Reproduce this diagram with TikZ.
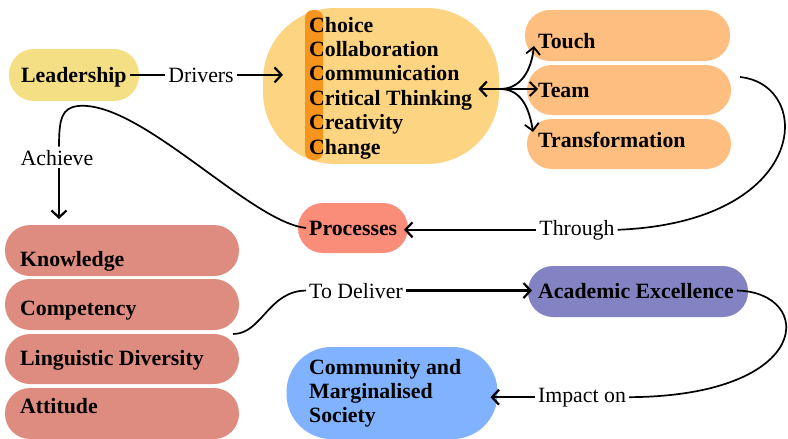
\documentclass[tikz,border=0pt]{standalone}
\usepackage{fontspec}
\setmainfont{Liberation Serif}
\usetikzlibrary{arrows.meta}
\definecolor{cLead}{HTML}{F5DF85}
\definecolor{cBig}{HTML}{FDD482}
\definecolor{cBar}{HTML}{F7941E}
\definecolor{cTouch}{HTML}{FDBE80}
\definecolor{cProc}{HTML}{FA8C7A}
\definecolor{cKnow}{HTML}{DE8C80}
\definecolor{cAE}{HTML}{8383C3}
\definecolor{cCom}{HTML}{80B2FF}
\begin{document}
\begin{tikzpicture}[x=1pt,y=-1pt,
  pill/.style={draw=none, inner sep=0pt, outer sep=0pt, rounded corners=25pt},
  bt/.style={font=\fontsize{21.8}{25}\selectfont\bfseries, inner sep=0pt, anchor=base west},
  rt/.style={font=\fontsize{21.8}{25}\selectfont, inner sep=3pt, anchor=base},
  plainline/.style={line width=2.2pt},
  conn/.style={line width=2.2pt, -{Straight Barb[length=7pt,width=15pt]}},
  branch/.style={line width=1.8pt, -{Straight Barb[length=7pt,width=14pt]}},
  curv/.style={line width=1.7pt}]
\useasboundingbox (0,0) rectangle (788,439);

% shapes
\node[pill, fill=cLead, minimum width=130pt, minimum height=52pt] (lead) at (74,75) {};
\node[pill, fill=cBig, rounded corners=72pt, minimum width=236pt, minimum height=156pt] (cbox) at (381,86) {};
\node[pill, fill=cBar, rounded corners=8pt, minimum width=18pt, minimum height=150pt] (bar) at (314,85) {};
\node[pill, fill=cTouch, minimum width=205pt, minimum height=51pt] (touch) at (627.5,35.5) {};
\node[pill, fill=cTouch, minimum width=204pt, minimum height=50pt] (team) at (629,90) {};
\node[pill, fill=cTouch, minimum width=204pt, minimum height=50pt] (trans) at (629,144) {};
\node[pill, fill=cProc, minimum width=110pt, minimum height=50pt] (proc) at (353,228) {};
\node[pill, fill=cKnow, minimum width=234pt, minimum height=51pt] (know) at (122,250.5) {};
\node[pill, fill=cKnow, minimum width=234pt, minimum height=51pt] (comp) at (122,304.5) {};
\node[pill, fill=cKnow, minimum width=234pt, minimum height=50pt] (ling) at (122,359) {};
\node[pill, fill=cKnow, minimum width=234pt, minimum height=51pt] (att) at (122,413.5) {};
\node[pill, fill=cAE, minimum width=220pt, minimum height=51pt] (ae) at (638,291.5) {};
\node[pill, fill=cCom, rounded corners=45pt, minimum width=211pt, minimum height=92pt] (com) at (392,393) {};

% texts
\node[bt] (tlead) at (21,82) {Leadership};
\node[bt] (c1) at (309,32) {Choice};
\node[bt] (c2) at (309,56.4) {Collaboration};
\node[bt] (c3) at (309,80.8) {Communication};
\node[bt] (ct) at (309,105.2) {Critical Thinking};
\node[bt] (c5) at (309,129.6) {Creativity};
\node[bt] (c6) at (309,154) {Change};
\node[bt] (ttouch) at (538,48) {Touch};
\node[bt] (tteam) at (538,97) {Team};
\node[bt] (ttrans) at (538,147) {Transformation};
\node[bt] (tproc) at (309,235) {Processes};
\node[bt] (tknow) at (20,266) {Knowledge};
\node[bt] (tcomp) at (20,315) {Competency};
\node[bt] (tling) at (20,365) {Linguistic Diversity};
\node[bt] (tatt) at (20,413) {Attitude};
\node[bt] (tae) at (538,298) {Academic Excellence};
\node[bt] (tcom1) at (309,374) {Community and};
\node[bt] (tcom2) at (309,398) {Marginalised};
\node[bt] (tcom3) at (309,422) {Society};

% labels
\node[rt] (tdrv) at (201,82) {Drivers};
\node[rt] (tach) at (57,165) {Achieve};
\node[rt] (thr) at (577,235) {Through};
\node[rt] (tdel) at (356,298) {To Deliver};
\node[rt] (timp) at (582,402) {Impact on};

% coordinates
\coordinate (cin) at ([xshift=20pt]cbox.west);
\coordinate (hub) at (500,89);
\coordinate (ctend) at ([xshift=6pt]ct.east);
\coordinate (touchin) at (534,46);
\coordinate (transin) at (533,132);
\coordinate (thrstart) at (740,77);
\coordinate (procin) at ([xshift=-4pt]proc.east);
\coordinate (aein) at ([xshift=4pt]ae.west);
\coordinate (comin) at ([xshift=-7pt]com.east);

% connectors
\draw[plainline] ([xshift=3pt]tlead.east |- tdrv.west) -- (tdrv.west);
\draw[conn] (tdrv.east) -- (tdrv.east -| cin);
\draw[conn] (hub) -- (hub -| ctend);
\draw[branch] (hub) .. controls (520,89) and (531,72) .. (touchin);
\draw[branch] (hub) -- (hub -| tteam.west);
\draw[branch] (hub) .. controls (520,89) and (529,106) .. (transin);
\draw[curv] (thrstart) .. controls (815,85) and (810,222) .. (thr.east);
\draw[conn] (thr.west) -- (thr.west -| procin);
\draw[curv] ([xshift=-3pt]tproc.west) .. controls (250,222) and (140,100) .. (78,106)
   .. controls (62,108) and (59,118) .. (tach.north -| 59,0);
\draw[conn, shorten >=6pt] (tach.south -| 59,0) -- (59,0 |- know.north);
\draw[curv] ([xshift=-6pt]ling.north east) .. controls (262,334) and (268,291) .. (tdel.west);
\draw[conn] (tdel.east) -- (tdel.east -| aein);
\draw[curv] ([xshift=3pt]tae.east) .. controls (815,292) and (815,396) .. (timp.east);
\draw[conn] (timp.west) -- (timp.west -| comin);
\end{tikzpicture}
\end{document}
